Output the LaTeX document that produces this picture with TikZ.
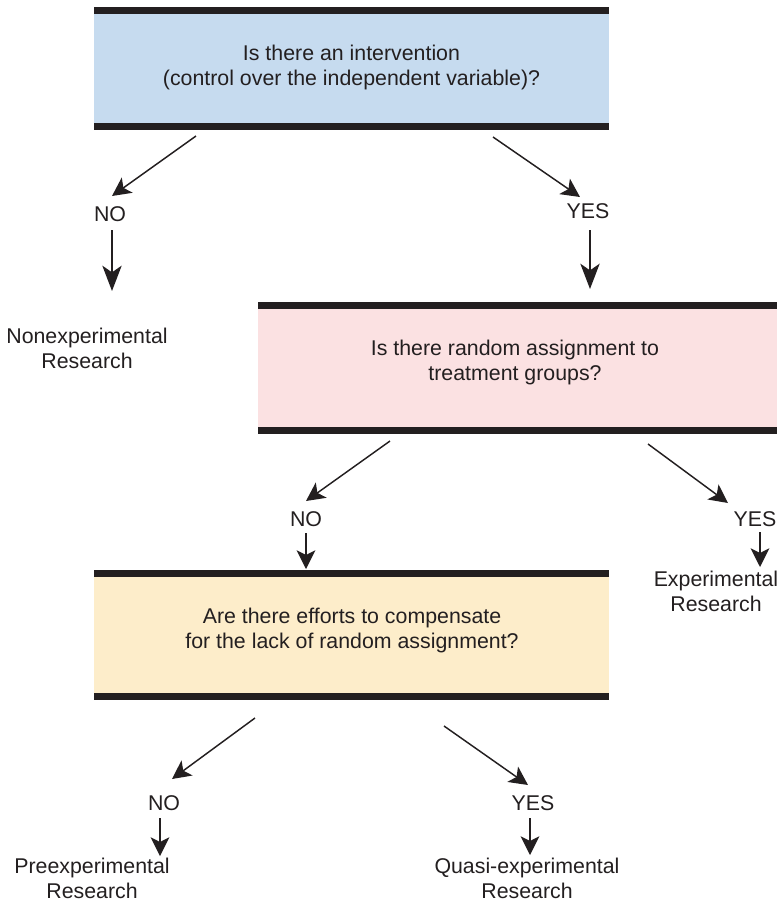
\documentclass[tikz,border=0pt]{standalone}
\usepackage{fontspec}
\setmainfont{Liberation Sans}
\usetikzlibrary{arrows.meta}
\definecolor{inkc}{HTML}{231F20}
\definecolor{qblue}{HTML}{C6DBEF}
\definecolor{qpink}{HTML}{FBE1E2}
\definecolor{qcream}{HTML}{FDEDCA}
\tikzset{
  qbox/.style={rectangle, inner sep=0pt, align=center, text=inkc,
    path picture={
      \fill[inkc] (path picture bounding box.north west) rectangle ([yshift=-5.6pt]path picture bounding box.north east);
      \fill[inkc] (path picture bounding box.south west) rectangle ([yshift=5.6pt]path picture bounding box.south east);
    }},
  qtext/.style={inner sep=0pt, align=center, text=inkc},
  lbl/.style={inner sep=0pt, align=center, text=inkc},
  arr/.style={draw=inkc, line width=1.1pt, -{Stealth[length=14pt, width=14pt, inset=3.5pt]}},
  arrlong/.style={draw=inkc, line width=1.1pt, -{Stealth[length=19pt, width=14.5pt, inset=5pt]}},
}
\begin{document}
\begin{tikzpicture}[x=0.75pt, y=-0.75pt, font=\fontsize{16}{18.75}\selectfont]
\useasboundingbox (0,0) rectangle (779,904);

% question boxes with their questions
\node[qbox, fill=qblue, minimum width=386.25pt, minimum height=92.25pt] (q1) at (351.5,68.5) {};
\node[qtext] (q1t) at (351.5,67.5)
  {Is there an intervention\\(control over the independent variable)?};
\node[qbox, fill=qpink, minimum width=389.25pt, minimum height=99pt] (q2) at (517.5,368) {};
\node[qtext] (q2t) at (515,362.5)
  {Is there random assignment to\\treatment groups?};
\node[qbox, fill=qcream, minimum width=386.25pt, minimum height=97.5pt] (q3) at (351.5,635) {};
\node[qtext] (q3t) at (352,630)
  {Are there efforts to compensate\\for the lack of random assignment?};

% answer labels
\node[lbl] (no1) at (110,214) {NO};
\node[lbl] (yes1) at (588,211) {YES};
\node[lbl] (no2) at (306,519) {NO};
\node[lbl] (yes2) at (755,519) {YES};
\node[lbl] (no3) at (164,803) {NO};
\node[lbl] (yes3) at (533,803) {YES};

% outcomes
\node[lbl] (nonexp) at (87,348) {Nonexperimental\\Research};
\node[lbl] (exp) at (716,591) {Experimental\\Research};
\node[lbl] (preexp) at (92,878) {Preexperimental\\Research};
\node[lbl] (quasi) at (527,878) {Quasi-experimental\\Research};

% connector end points
\coordinate (a1s) at (196,136);  \coordinate (a1e) at (112,196);
\coordinate (b1s) at (493,137);  \coordinate (b1e) at (580,197);
\coordinate (a1d) at (112,230);  \coordinate (a1f) at (112,291);
\coordinate (b1d) at (590,230);  \coordinate (b1f) at (590,289);

\coordinate (a2s) at (390,441);  \coordinate (a2e) at (306,501);
\coordinate (b2s) at (648,444);  \coordinate (b2e) at (728,503);
\coordinate (a2d) at (306,533);  \coordinate (a2f) at (306,569);
\coordinate (b2d) at (760,532);  \coordinate (b2f) at (760,567);

\coordinate (a3s) at (255,718);  \coordinate (a3e) at (172,779);
\coordinate (b3s) at (444,726);  \coordinate (b3e) at (528,785);
\coordinate (a3d) at (160,818);  \coordinate (a3f) at (160,856);
\coordinate (b3d) at (530,818);  \coordinate (b3f) at (530,855);

% connectors
\draw[arr] (a1s) -- (a1e);
\draw[arr] (b1s) -- (b1e);
\draw[arrlong] (a1d) -- (a1f);
\draw[arrlong] (b1d) -- (b1f);
\draw[arr] (a2s) -- (a2e);
\draw[arr] (b2s) -- (b2e);
\draw[arr] (a2d) -- (a2f);
\draw[arr] (b2d) -- (b2f);
\draw[arr] (a3s) -- (a3e);
\draw[arr] (b3s) -- (b3e);
\draw[arr] (a3d) -- (a3f);
\draw[arr] (b3d) -- (b3f);
\end{tikzpicture}
\end{document}
